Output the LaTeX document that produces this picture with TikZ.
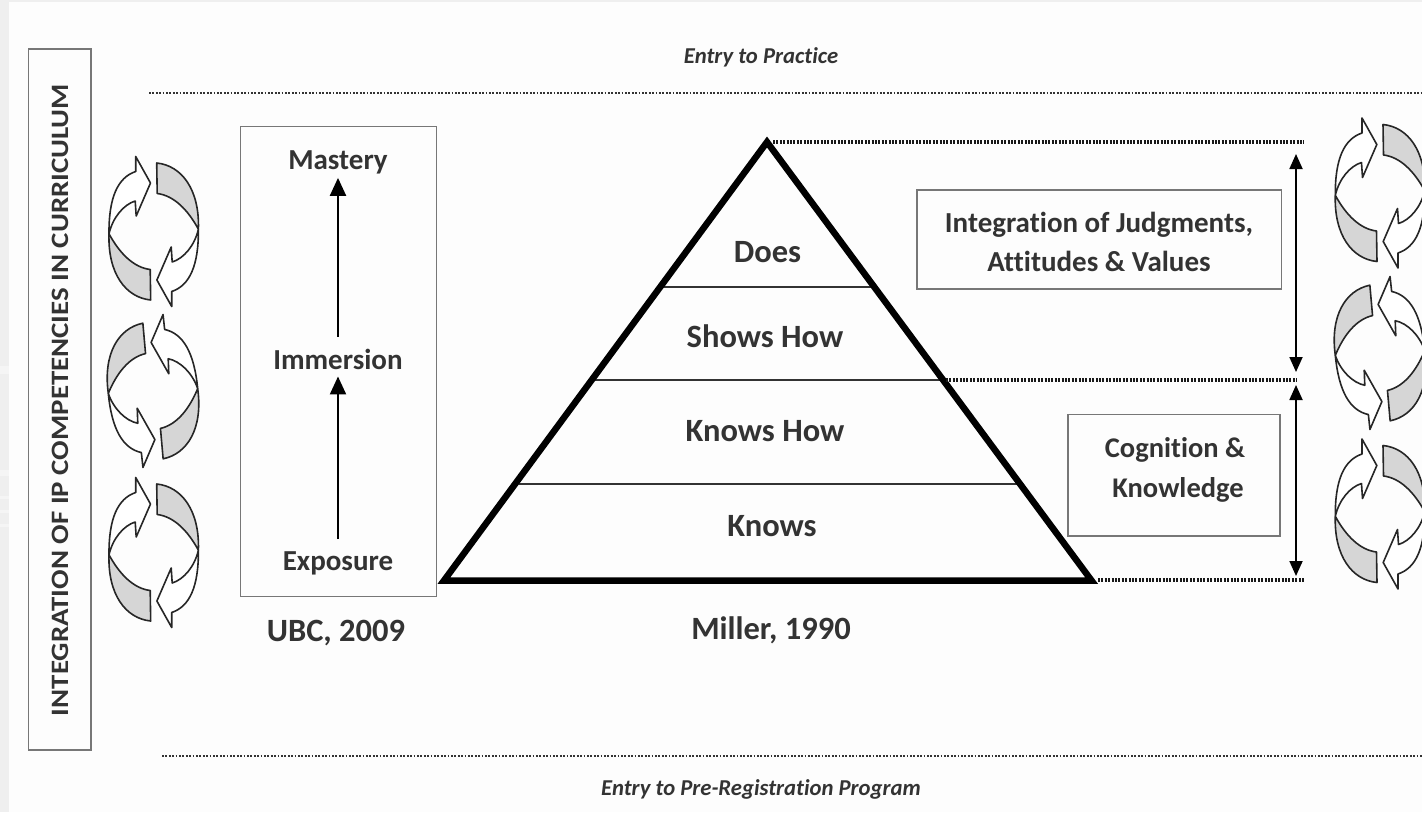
\documentclass[tikz,border=0pt]{standalone}
\usepackage{fontspec}
\usepackage{graphicx}
\setmainfont{Carlito}[Ligatures=NoCommon]
\usetikzlibrary{arrows.meta}
\definecolor{ink}{HTML}{333333}
\definecolor{edge}{HTML}{777777}
\definecolor{greyfill}{HTML}{D6D6D6}
\definecolor{strip}{HTML}{EFEFEF}
\definecolor{streak}{HTML}{F5F5F5}
\definecolor{paper}{HTML}{FDFDFD}
\tikzset{
  x=1pt,y=-1pt,
  label text/.style={font=\fontsize{29}{32}\selectfont\bfseries,text=ink,inner sep=0pt,align=center},
  big text/.style={font=\fontsize{32.5}{36}\selectfont\bfseries,text=ink,inner sep=0pt,align=center},
  small italic/.style={font=\fontsize{22.7}{26}\selectfont\bfseries\itshape,text=ink,inner sep=0pt},
  plain box/.style={draw=edge,line width=1.3pt,fill=none},
  dots/.style={draw=ink,line width=2.4pt,dash pattern=on 1.8pt off 1.6pt},
  heavy dots/.style={draw=black!90,line width=3.2pt,dash pattern=on 1.9pt off 1.5pt},
  rung/.style={draw=ink,line width=2pt},
  upstem/.style={draw=black,line width=2.2pt,-{Triangle[length=18pt,width=16pt]}},
  span/.style={draw=black,line width=1.8pt,{Triangle[length=15pt,width=13pt]}-{Triangle[length=15pt,width=13pt]}},
  cyc/.pic={
    \foreach \a in {0,180}{
      \begin{scope}[rotate=\a]
        \draw[black!85,line width=1.6pt,line join=round,fill=white]
          (-3.2,-48.5) -- (-18,-75) -- (-18,-60)
          .. controls (-36,-54) and (-45,-34) .. (-44.7,2.3)
          .. controls (-41,-14) and (-30,-27) .. (-18.5,-30.5)
          -- (-17.5,-15.5) -- cycle;
        \draw[black!85,line width=1.6pt,line join=round,fill=greyfill]
          (-44.7,2.3) .. controls (-34,22) and (-20,36) .. (-3.5,38)
          -- (-3,68.5)
          .. controls (-28,66) and (-46,42) .. (-44.7,2.3) -- cycle;
      \end{scope}
    }
  }
}
\begin{document}
\begin{tikzpicture}
\useasboundingbox (0,0) rectangle (1422,812);
\fill[paper] (0,0) rectangle (1422,812);
\fill[strip] (0,0) rectangle (1422,2);
\fill[strip] (0,0) rectangle (9,812);
\fill[streak] (0,366) rectangle (9,374);
\fill[streak] (0,470) rectangle (9,476);
\fill[streak] (0,496) rectangle (9,499);
\fill[streak] (0,510) rectangle (9,513);
\fill[streak] (0,524) rectangle (9,527);

% left title box
\node[plain box,minimum width=62.5pt,minimum height=701pt,inner sep=0pt] (titlebox) at (59.8,399.5) {};
\node[font=\fontsize{25}{28}\selectfont\bfseries,text=ink,inner sep=0pt,rotate=90,anchor=base] (title) at (68,400) {\scalebox{1.156}[1]{INTEGRATION OF IP COMPETENCIES IN CURRICULUM}};

% entry lines
\coordinate (topL) at (149,93);
\coordinate (topR) at (1422,93);
\coordinate (botL) at (162,756);
\coordinate (botR) at (1422,756);
\draw[dots] (topL) -- (topR);
\draw[dots] (botL) -- (botR);
\node[small italic] (entry) at (761,57.5) {Entry to Practice};
\node[small italic] (prereg) at (761,789.5) {Entry to Pre-Registration Program};

% UBC box
\node[plain box,minimum width=196pt,minimum height=470pt,inner sep=0pt] (ubcbox) at (338.5,361.5) {};
\node[label text] (mastery) at (338,162) {Mastery};
\node[label text] (immersion) at (338,359) {Immersion};
\node[label text] (exposure) at (338,563) {Exposure};
\node[big text] (ubc) at (336,633) {UBC, 2009};
\draw[upstem,shorten <=12pt,shorten >=4pt] (immersion.north) -- (mastery.south);
\draw[upstem,shorten <=12pt,shorten >=7pt] (exposure.north) -- (immersion.south);

% pyramid
\coordinate (apex) at (767,142);
\coordinate (bl) at (444,580.5);
\coordinate (br) at (1091.5,580.5);
\coordinate (r1a) at (663,287); \coordinate (r1b) at (873,287);
\coordinate (r2a) at (592,380); \coordinate (r2b) at (943,380);
\coordinate (r3a) at (519,484); \coordinate (r3b) at (1017,484);
\draw[rung] (r1a) -- (r1b);
\draw[rung] (r2a) -- (r2b);
\draw[rung] (r3a) -- (r3b);
\draw[black,line width=6.5pt,line join=miter] (apex) -- (br) -- (bl) -- cycle;
\node[big text] (does) at (767.5,252.5) {Does};
\node[big text] (shows) at (765,336) {Shows How};
\node[big text] (knowshow) at (765,431.5) {Knows How};
\node[big text] (knows) at (772,526) {Knows};
\node[big text] (miller) at (771,630.5) {Miller, 1990};

% level lines
\coordinate (d1a) at (773,142); \coordinate (d1b) at (1304,142);
\coordinate (d2a) at (946,380); \coordinate (d2b) at (1297,380);
\coordinate (d3a) at (1098,580); \coordinate (d3b) at (1304,580);
\draw[heavy dots] (d1a) -- (d1b);
\draw[heavy dots] (d2a) -- (d2b);
\draw[heavy dots] (d3a) -- (d3b);

% span arrows
\coordinate (s1a) at (1296,154); \coordinate (s1b) at (1296,372);
\coordinate (s2a) at (1296,385); \coordinate (s2b) at (1296,576);
\draw[span] (s1a) -- (s1b);
\draw[span] (s2a) -- (s2b);

% right boxes
\node[plain box,minimum width=364.5pt,minimum height=99pt,inner sep=0pt] (jbox) at (1099.2,239.5) {};
\node[label text,font=\fontsize{29}{39}\selectfont\bfseries] (jtext) at (1099,241.5) {Integration of Judgments,\\Attitudes \& Values};
\node[plain box,minimum width=212pt,minimum height=121.5pt,inner sep=0pt] (cbox) at (1174,475.2) {};
\node[label text,font=\fontsize{28.5}{40}\selectfont\bfseries] (ctext) at (1175,469.5) {Cognition \&\\\hspace*{6pt}Knowledge};

% cycle icons
\pic[shift={(153.7,231.5)}] {cyc};
\pic[shift={(153,391)},rotate=6,xscale=-1] {cyc};
\pic[shift={(153.7,552.5)}] {cyc};
\pic[shift={(1380,193)}] {cyc};
\pic[shift={(1380,353)},rotate=6,xscale=-1] {cyc};
\pic[shift={(1380,514)}] {cyc};
\end{tikzpicture}
\end{document}
